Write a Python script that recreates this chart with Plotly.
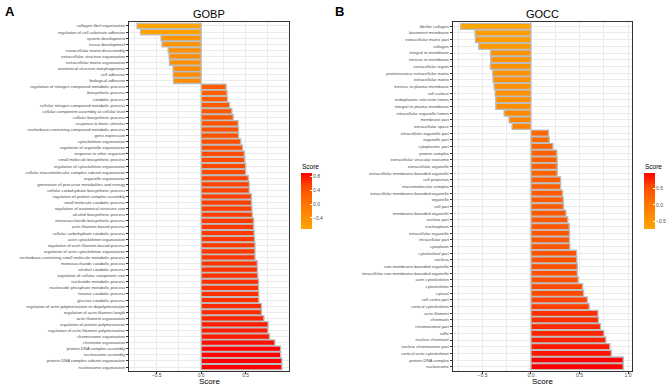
import plotly.graph_objects as go

gobp_terms = [
    "collagen fibril organization", "regulation of cell-substrate adhesion", "system development",
    "tissue development", "extracellular matrix disassembly", "extracellular structure organization",
    "extracellular matrix organization", "anatomical structure morphogenesis", "cell adhesion",
    "biological adhesion", "regulation of nitrogen compound metabolic process", "biosynthetic process",
    "catabolic process", "cellular nitrogen compound metabolic process",
    "cellular component assembly at cellular level", "cellular biosynthetic process",
    "response to biotic stimulus", "nucleobase-containing compound metabolic process", "gene expression",
    "cytoskeleton organization", "regulation of organelle organization", "response to other organism",
    "small molecule biosynthetic process", "regulation of cytoskeleton organization",
    "cellular macromolecular complex subunit organization", "organelle organization",
    "generation of precursor metabolites and energy", "cellular carbohydrate biosynthetic process",
    "regulation of protein complex assembly", "small molecule catabolic process",
    "regulation of anatomical structure size", "alcohol biosynthetic process",
    "monosaccharide biosynthetic process", "actin filament-based process",
    "cellular carbohydrate catabolic process", "actin cytoskeleton organization",
    "regulation of actin filament-based process", "regulation of actin cytoskeleton organization",
    "nucleobase-containing small molecule metabolic process", "monosaccharide catabolic process",
    "alcohol catabolic process", "regulation of cellular component size", "nucleotide metabolic process",
    "nucleoside phosphate metabolic process", "hexose catabolic process", "glucose catabolic process",
    "regulation of actin polymerization or depolymerization", "regulation of actin filament length",
    "actin filament organization", "regulation of protein polymerization",
    "regulation of actin filament polymerization", "chromosome organization", "chromatin organization",
    "protein-DNA complex assembly", "nucleosome assembly", "protein-DNA complex subunit organization",
    "nucleosome organization",
]
gobp_scores = [
    -0.72, -0.68, -0.45, -0.44, -0.37, -0.36, -0.355, -0.315, -0.315, -0.31,
    0.28, 0.29, 0.295, 0.32, 0.345, 0.36, 0.415, 0.42, 0.42, 0.445,
    0.465, 0.485, 0.49, 0.50, 0.50, 0.53, 0.54, 0.54, 0.565, 0.565,
    0.57, 0.575, 0.59, 0.59, 0.595, 0.60, 0.605, 0.605, 0.605, 0.63,
    0.632, 0.636, 0.645, 0.645, 0.648, 0.648, 0.678, 0.678, 0.705, 0.752,
    0.75, 0.768, 0.828, 0.892, 0.893, 0.907, 0.907,
]

gocc_terms = [
    "fibrillar collagen", "basement membrane", "extracellular matrix part", "collagen",
    "integral to membrane", "intrinsic to membrane", "extracellular region",
    "proteinaceous extracellular matrix", "extracellular matrix", "intrinsic to plasma membrane",
    "cell surface", "endoplasmic reticulum lumen", "integral to plasma membrane",
    "intracellular organelle lumen", "membrane part", "extracellular space",
    "intracellular organelle part", "organelle part", "cytoplasmic part", "protein complex",
    "extracellular vesicular exosome", "extracellular organelle",
    "extracellular membrane-bounded organelle", "cell projection", "macromolecular complex",
    "intracellular membrane-bounded organelle", "organelle", "cell part", "membrane-bounded organelle",
    "nuclear part", "nucleoplasm", "intracellular organelle", "intracellular part", "cytoplasm",
    "cytoskeletal part", "nucleus", "non-membrane-bounded organelle",
    "intracellular non-membrane-bounded organelle", "actin cytoskeleton", "cytoskeleton", "cytosol",
    "cell cortex part", "cortical cytoskeleton", "actin filament", "chromatin", "chromosomal part",
    "ruffle", "nuclear chromatin", "nuclear chromosome part", "cortical actin cytoskeleton",
    "protein-DNA complex", "nucleosome",
]
gocc_scores = [
    -0.725, -0.576, -0.573, -0.538, -0.418, -0.415, -0.418, -0.394, -0.391, -0.38,
    -0.37, -0.363, -0.363, -0.277, -0.226, -0.195, 0.181, 0.188, 0.226, 0.267,
    0.27, 0.27, 0.27, 0.305, 0.305, 0.325, 0.332, 0.336, 0.36, 0.38,
    0.394, 0.397, 0.397, 0.401, 0.47, 0.473, 0.477, 0.477, 0.487, 0.532,
    0.542, 0.58, 0.60, 0.69, 0.696, 0.717, 0.752, 0.772, 0.813, 0.827,
    0.951, 0.951,
]

gobp_cbar_ticks = [0.8, 0.4, 0.0, -0.4]
gocc_cbar_ticks = [0.5, 0.0, -0.5]
gobp_x_ticks = [-0.5, 0.0, 0.5]
gocc_x_ticks = [-0.5, 0.0, 0.5, 1.0]

W, H = 669, 386
scale = [[0, "#FFA500"], [0.25, "#FF8B00"], [0.5, "#FF6E00"], [0.75, "#FF4B00"], [1, "#FF0000"]]


def px_x(p):
    return p / W


def px_y(p):
    return 1 - p / H


fig = go.Figure()
for scores, terms, xa, ya in [(gobp_scores, gobp_terms, "x", "y"), (gocc_scores, gocc_terms, "x2", "y2")]:
    fig.add_trace(go.Bar(
        x=scores, y=terms, orientation="h", width=0.9,
        marker=dict(color=scores, colorscale=scale, cmin=min(scores), cmax=max(scores),
                    showscale=False, line=dict(color="#BDBDBD", width=1.3)),
        xaxis=xa, yaxis=ya, hoverinfo="x+y",
    ))

# gradient legends (colour bars) drawn as thin heatmaps
for scores, xa, ya in [(gobp_scores, "x3", "y3"), (gocc_scores, "x4", "y4")]:
    lo, hi = min(scores), max(scores)
    steps = 80
    levels = [lo + (hi - lo) * i / (steps - 1) for i in range(steps)]
    fig.add_trace(go.Heatmap(
        z=[[v] for v in levels], y=levels, x=[0],
        colorscale=scale, zmin=lo, zmax=hi, showscale=False,
        xaxis=xa, yaxis=ya, hoverinfo="skip",
    ))

ytop, ybot = 22.3, 370.7
grid = "#EBEBEB"
common_x = dict(
    showline=True, mirror=True, linecolor="#333333", linewidth=1,
    showgrid=True, gridcolor=grid, gridwidth=0.8, zeroline=False,
    ticks="outside", ticklen=2, tickcolor="#333333", tickwidth=0.6,
    tickfont=dict(size=5, color="#4D4D4D"), tickformat=".1f", automargin=False,
    ticklabelstandoff=-3,
    minor=dict(showgrid=True, gridcolor=grid, gridwidth=0.5, dtick=0.25, tick0=0),
)
common_y = dict(
    showline=True, mirror=True, linecolor="#333333", linewidth=1,
    showgrid=True, gridcolor=grid, gridwidth=0.8, type="category",
    ticks="outside", ticklen=2, tickcolor="#333333", tickwidth=0.6,
    tickfont=dict(size=4.2, color="#4D4D4D"), automargin=False,
)
cb_x = dict(showticklabels=False, showgrid=False, zeroline=False, showline=False,
            ticks="", automargin=False, fixedrange=True)
cb_y = dict(side="right", showgrid=False, zeroline=False, showline=False,
            ticks="inside", ticklen=2, tickcolor="white", tickwidth=0.6,
            tickfont=dict(size=5, color="#4D4D4D"), tickformat=".1f", automargin=False)

cb_top, cb_bot = 173, 229
fig.update_layout(
    width=W, height=H, margin=dict(l=0, r=0, t=0, b=0, autoexpand=False),
    paper_bgcolor="white", plot_bgcolor="white", showlegend=False,
    font=dict(family="Liberation Sans, Arial, sans-serif"),
    xaxis=dict(domain=[px_x(129), px_x(289.3)], anchor="y", range=[-0.81, 0.99],
               tickvals=gobp_x_ticks, **common_x),
    yaxis=dict(domain=[px_y(ybot), px_y(ytop)], anchor="x",
               range=[len(gobp_terms) - 1 + 0.6, -0.6], **common_y),
    xaxis2=dict(domain=[px_x(452.7), px_x(631.7)], anchor="y2", range=[-0.807, 1.038],
                tickvals=gocc_x_ticks, **common_x),
    yaxis2=dict(domain=[px_y(ybot), px_y(ytop)], anchor="x2",
                range=[len(gocc_terms) - 1 + 0.6, -0.6], **common_y),
    xaxis3=dict(domain=[px_x(301), px_x(312)], anchor="y3", range=[-0.5, 0.5], **cb_x),
    yaxis3=dict(domain=[px_y(cb_bot), px_y(cb_top)], anchor="x3",
                range=[min(gobp_scores), max(gobp_scores)], tickvals=gobp_cbar_ticks, **cb_y),
    xaxis4=dict(domain=[px_x(644), px_x(655)], anchor="y4", range=[-0.5, 0.5], **cb_x),
    yaxis4=dict(domain=[px_y(cb_bot), px_y(cb_top)], anchor="x4",
                range=[min(gocc_scores), max(gocc_scores)], tickvals=gocc_cbar_ticks, **cb_y),
)

annots = [
    dict(text="<b>A</b>", x=px_x(3), y=px_y(2), font=dict(size=13, color="black"), xanchor="left", yanchor="top"),
    dict(text="<b>B</b>", x=px_x(333), y=px_y(2), font=dict(size=13, color="black"), xanchor="left", yanchor="top"),
    dict(text="GOBP", x=px_x(209), y=px_y(14), font=dict(size=11, color="black"), xanchor="center", yanchor="middle"),
    dict(text="GOCC", x=px_x(542), y=px_y(14), font=dict(size=11, color="black"), xanchor="center", yanchor="middle"),
    dict(text="Score", x=px_x(300), y=px_y(166), font=dict(size=6.5, color="black"), xanchor="left", yanchor="middle"),
    dict(text="Score", x=px_x(643), y=px_y(166), font=dict(size=6.5, color="black"), xanchor="left", yanchor="middle"),
    dict(text="Score", x=px_x(209), y=px_y(381.5), font=dict(size=8, color="black"), xanchor="center", yanchor="middle"),
    dict(text="Score", x=px_x(542), y=px_y(381.5), font=dict(size=8, color="black"), xanchor="center", yanchor="middle"),
]
for a in annots:
    a.update(xref="paper", yref="paper", showarrow=False)
fig.update_layout(annotations=annots)

fig.write_html(
    "out.html",
    config={"displayModeBar": False},
    post_script="document.body.style.margin='0';document.body.style.overflow='hidden';",
)
